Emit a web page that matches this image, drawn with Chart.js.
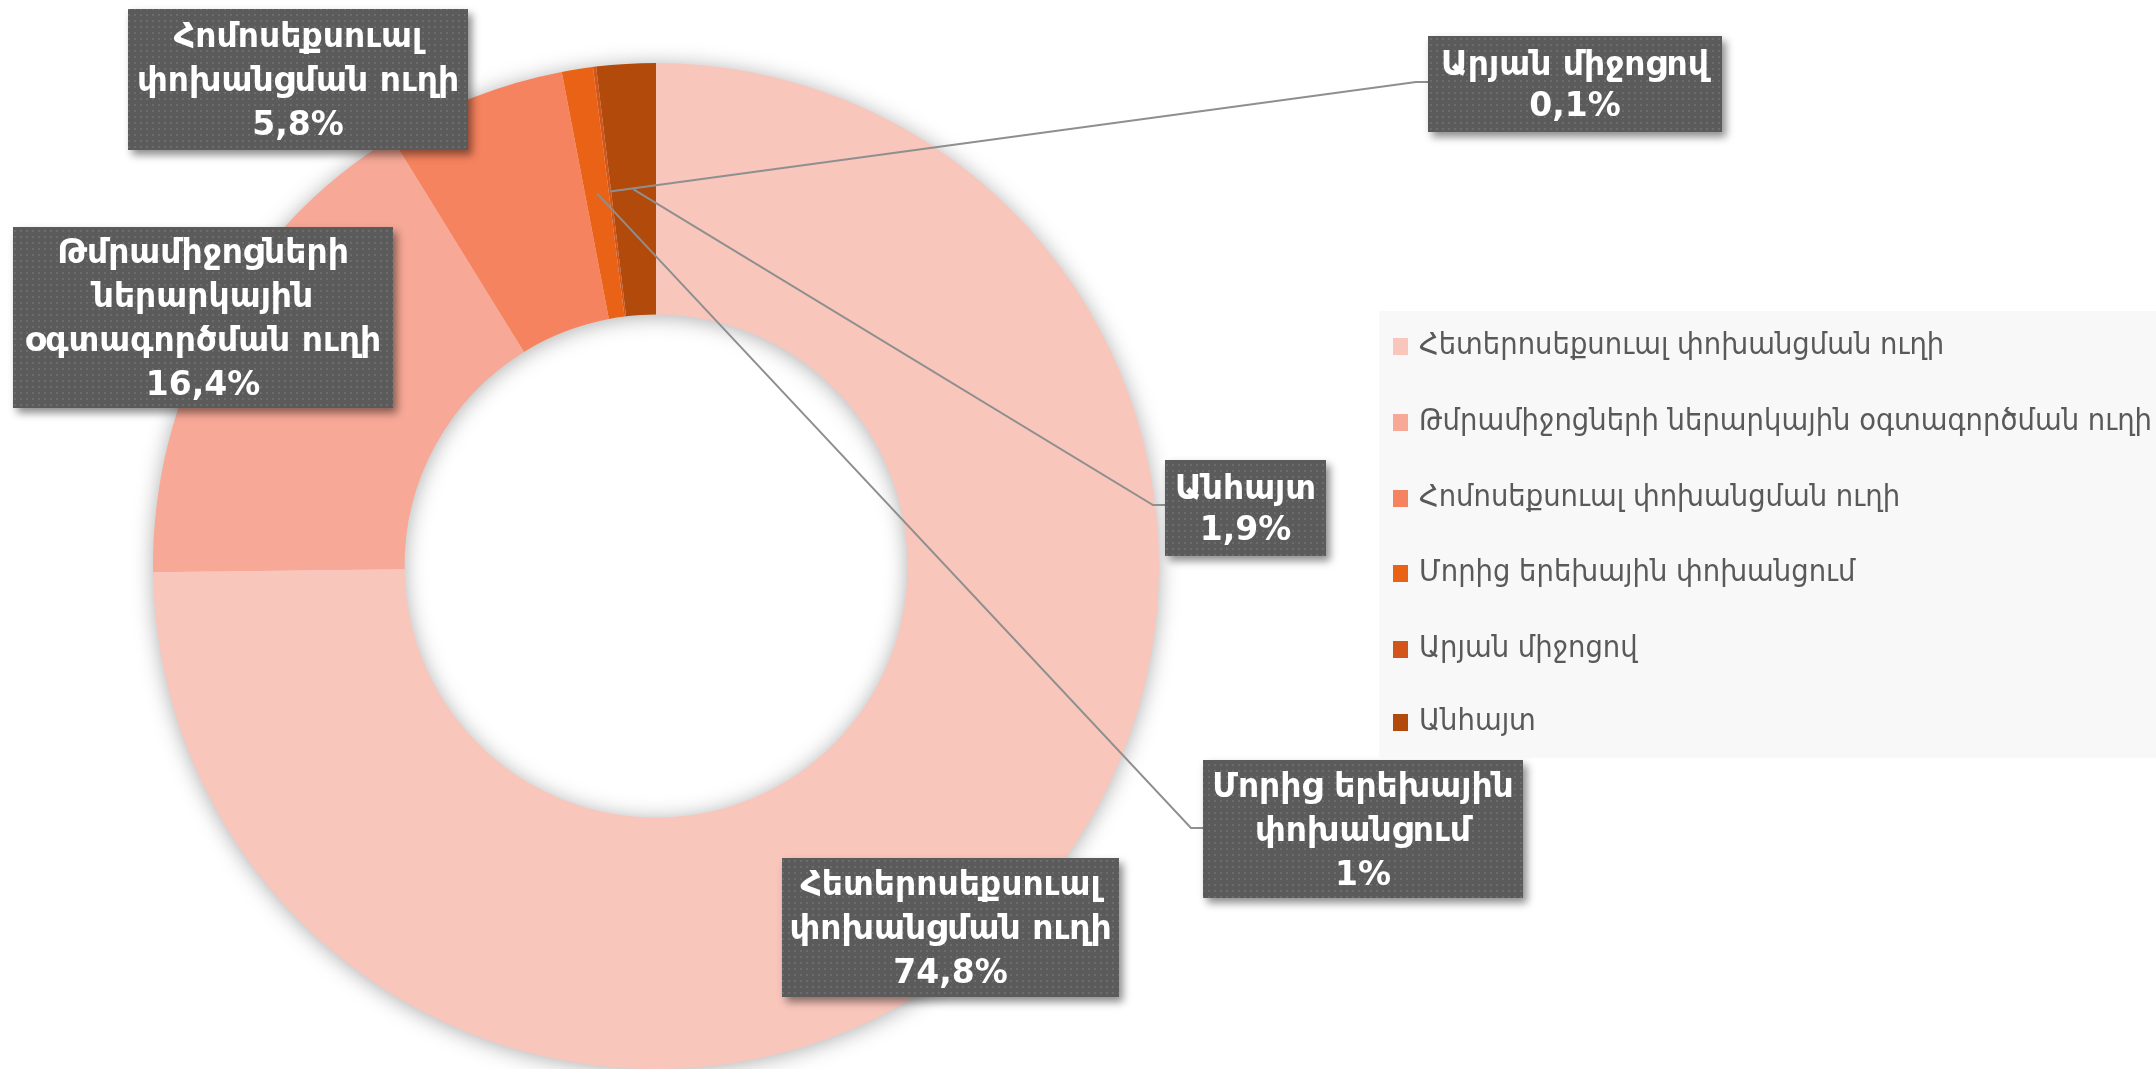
<!DOCTYPE html>
<html>
<head>
<meta charset="utf-8">
<script src="https://cdn.jsdelivr.net/npm/chart.js@4.4.1/dist/chart.umd.min.js"></script>
<style>
  html, body { margin: 0; padding: 0; background: #ffffff; }
  #wrap { width: 2156px; height: 1069px; position: relative; }
</style>
</head>
<body>
<div id="wrap"><canvas id="c" width="2156" height="1069"></canvas></div>
<script>
// ---- data ----
const categories = [
  'Հետերոսեքսուալ փոխանցման ուղի',
  'Թմրամիջոցների ներարկային օգտագործման ուղի',
  'Հոմոսեքսուալ փոխանցման ուղի',
  'Մորից երեխային փոխանցում',
  'Արյան միջոցով',
  'Անհայտ'
];
const values = [74.8, 16.4, 5.8, 1, 0.1, 1.9];
const labelLines = [
  ['Հետերոսեքսուալ', 'փոխանցման ուղի'],
  ['Թմրամիջոցների', 'ներարկային', 'օգտագործման ուղի'],
  ['Հոմոսեքսուալ', 'փոխանցման ուղի'],
  ['Մորից երեխային', 'փոխանցում'],
  ['Արյան միջոցով'],
  ['Անհայտ']
];
const colors = ['#F9C6BC', '#F7A896', '#F6835F', '#E96216', '#D2561A', '#B24A0C'];

// ---- layout of the data-label boxes ----
const boxLayout = [
  { x: 782, y: 858, w: 337, h: 139, leader: false },
  { x: 13, y: 227, w: 380, h: 181, leader: false },
  { x: 128, y: 9, w: 340, h: 141, leader: false },
  { x: 1203, y: 760, w: 320, h: 138, leader: true, ay: 828 },
  { x: 1428, y: 36, w: 294, h: 96, leader: true, ay: 82 },
  { x: 1165, y: 460, w: 161, h: 96, leader: true, ay: 505 }
];

function fmtPct(v) { return String(v).replace('.', ',') + '%'; }

function makeDotPattern(ctx) {
  const p = document.createElement('canvas');
  p.width = 6; p.height = 6;
  const c = p.getContext('2d');
  c.fillStyle = '#5b5b5b';
  c.fillRect(0, 0, 6, 6);
  c.fillStyle = '#6c6c6c';
  c.fillRect(2, 2, 2, 2);
  return ctx.createPattern(p, 'repeat');
}

const shadowRing = {
  id: 'shadowRing',
  beforeDatasetsDraw(chart) {
    const arc = chart.getDatasetMeta(0).data[0];
    if (!arc) return;
    const ctx = chart.ctx;
    const { x, y, outerRadius, innerRadius } = arc.getProps(['x', 'y', 'outerRadius', 'innerRadius'], true);
    ctx.save();
    ctx.shadowColor = 'rgba(0,0,0,0.35)';
    ctx.shadowBlur = 22;
    ctx.shadowOffsetX = 0;
    ctx.shadowOffsetY = 2;
    ctx.fillStyle = '#f0f0f0';
    ctx.beginPath();
    ctx.arc(x, y, outerRadius - 1, 0, Math.PI * 2);
    ctx.arc(x, y, innerRadius + 1, 0, Math.PI * 2, true);
    ctx.fill();
    ctx.restore();
  }
};

const labelsAndLegend = {
  id: 'labelsAndLegend',
  afterDraw(chart) {
    const ctx = chart.ctx;
    const meta = chart.getDatasetMeta(0);
    const labels = chart.data.labels;
    const data = chart.data.datasets[0].data;
    const bg = chart.data.datasets[0].backgroundColor;

    // leader lines
    ctx.save();
    ctx.strokeStyle = '#8f8f8f';
    ctx.lineWidth = 2;
    boxLayout.forEach((b, i) => {
      if (!b.leader) return;
      const pt = meta.data[i].getCenterPoint();
      ctx.beginPath();
      ctx.moveTo(pt.x, pt.y);
      ctx.lineTo(b.x - 12, b.ay);
      ctx.lineTo(b.x, b.ay);
      ctx.stroke();
    });
    ctx.restore();

    // label boxes
    const pattern = makeDotPattern(ctx);
    boxLayout.forEach((b, i) => {
      ctx.save();
      ctx.shadowColor = 'rgba(0,0,0,0.45)';
      ctx.shadowBlur = 8;
      ctx.shadowOffsetX = 4;
      ctx.shadowOffsetY = 5;
      ctx.fillStyle = '#5b5b5b';
      ctx.fillRect(b.x, b.y, b.w, b.h);
      ctx.restore();
      ctx.save();
      ctx.fillStyle = pattern;
      ctx.fillRect(b.x, b.y, b.w, b.h);
      const lines = labelLines[i].concat([fmtPct(data[i])]);
      ctx.fillStyle = '#ffffff';
      ctx.font = 'bold 33px "DejaVu Sans"';
      ctx.textAlign = 'center';
      ctx.textBaseline = 'middle';
      const lh = lines.length > 2 ? 44 : 41;
      const cx = b.x + b.w / 2;
      const top = b.y + b.h / 2 + 3 - (lines.length - 1) * lh / 2;
      lines.forEach((t, k) => {
        const w = ctx.measureText(t).width;
        const maxW = b.w - 10;
        if (w > maxW) {
          ctx.save();
          ctx.translate(cx, top + k * lh);
          ctx.scale(maxW / w, 1);
          ctx.fillText(t, 0, 0);
          ctx.restore();
        } else {
          ctx.fillText(t, cx, top + k * lh);
        }
      });
      ctx.restore();
    });

    // legend
    ctx.save();
    ctx.fillStyle = '#f8f8f8';
    ctx.fillRect(1379, 311, 2156 - 1379, 758 - 311);
    ctx.font = '30px "DejaVu Sans Condensed"';
    ctx.textBaseline = 'middle';
    ctx.textAlign = 'left';
    const longest = Math.max(...labels.map(t => ctx.measureText(t).width));
    const sx = 733 / longest;
    const ys = [346, 422, 498, 573, 649, 722];
    labels.forEach((t, i) => {
      const yy = ys[i];
      ctx.fillStyle = bg[i];
      ctx.fillRect(1393, yy - 8, 15, 17);
      ctx.fillStyle = '#595959';
      ctx.save();
      ctx.translate(1419, yy);
      ctx.scale(sx, 1);
      ctx.fillText(t, 0, 0);
      ctx.restore();
    });
    ctx.restore();
  }
};

new Chart(document.getElementById('c'), {
  type: 'doughnut',
  data: {
    labels: categories,
    datasets: [{
      data: values,
      backgroundColor: colors,
      borderWidth: 0
    }]
  },
  options: {
    responsive: false,
    animation: false,
    cutout: '50%',
    rotation: 0,
    layout: { padding: { left: 153, top: 63, right: 997, bottom: 0 } },
    plugins: {
      legend: { display: false },
      tooltip: { enabled: false }
    }
  },
  plugins: [shadowRing, labelsAndLegend]
});
</script>
</body>
</html>
